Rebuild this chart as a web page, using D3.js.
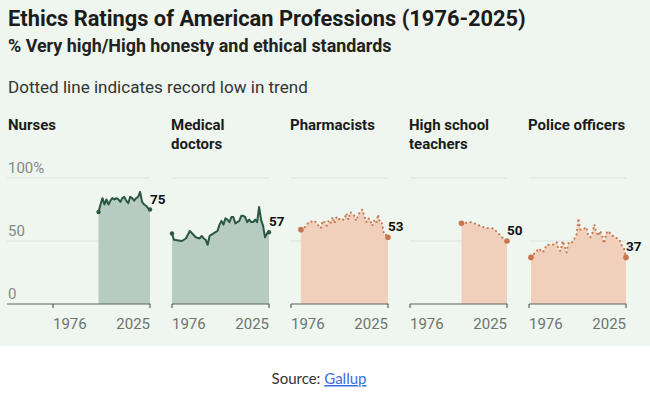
<!DOCTYPE html>
<html>
<head>
<meta charset="utf-8">
<script src="https://cdn.jsdelivr.net/npm/d3@7"></script>
<style>
  body { margin: 0; background: #fff; }
  svg { display: block; }
</style>
</head>
<body>
<svg id="chart" width="650" height="395"></svg>
<script>
// panel titles (split in lines) and which ones hit a record low
const titleLines = [["Nurses"], ["Medical", "doctors"], ["Pharmacists"], ["High school", "teachers"], ["Police officers"]];
const recordLow = [false, false, true, true, true];

const nursesYears = [1999, 2000, 2001, 2002, 2003, 2004, 2005, 2006, 2007, 2008, 2009, 2010, 2011, 2012, 2013, 2014, 2015, 2016, 2017, 2018, 2019, 2020, 2021, 2022, 2023, 2024, 2025];
const nursesValues = [73, 79, 84, 79, 83, 79, 82, 84, 83, 84, 83, 81, 84, 85, 82, 80, 85, 84, 82, 84, 85, 89, 81, 79, 78, 76, 75];

const doctorsYears = [1976, 1977, 1981, 1983, 1985, 1988, 1990, 1991, 1992, 1993, 1994, 1995, 1996, 1997, 1998, 1999, 2000, 2001, 2002, 2003, 2004, 2005, 2006, 2007, 2008, 2009, 2010, 2011, 2012, 2013, 2014, 2015, 2016, 2017, 2018, 2019, 2020, 2021, 2022, 2023, 2024, 2025];
const doctorsValues = [56, 51, 50, 52, 58, 53, 52, 54, 52, 51, 47, 54, 55, 56, 57, 58, 63, 66, 63, 68, 67, 65, 69, 69, 64, 65, 66, 70, 70, 69, 65, 67, 65, 65, 67, 65, 77, 67, 62, 53, 56, 57];

const pharmacistsYears = [1981, 1983, 1985, 1988, 1990, 1991, 1992, 1993, 1994, 1995, 1996, 1997, 1998, 1999, 2000, 2001, 2002, 2003, 2004, 2005, 2006, 2007, 2008, 2009, 2010, 2011, 2012, 2013, 2014, 2015, 2016, 2017, 2018, 2019, 2020, 2021, 2022, 2023, 2024, 2025];
const pharmacistsValues = [59, 61, 65, 66, 62, 60, 66, 65, 62, 66, 64, 69, 64, 69, 67, 68, 67, 67, 72, 67, 73, 71, 70, 66, 71, 73, 75, 70, 65, 68, 67, 62, 66, 64, 71, 64, 64, 55, 55, 53];

const teachersYears = [2002, 2007, 2010, 2013, 2016, 2018, 2020, 2022, 2023, 2025];
const teachersValues = [64, 65, 63, 61, 60, 60, 57, 54, 52, 50];

const policeYears = [1977, 1981, 1983, 1985, 1988, 1990, 1991, 1992, 1993, 1994, 1995, 1996, 1997, 1998, 1999, 2000, 2001, 2002, 2003, 2004, 2005, 2006, 2007, 2008, 2009, 2010, 2011, 2012, 2013, 2014, 2015, 2016, 2017, 2018, 2019, 2020, 2021, 2022, 2023, 2024, 2025];
const policeValues = [37, 44, 41, 47, 47, 49, 43, 42, 50, 46, 41, 49, 49, 49, 52, 55, 68, 59, 59, 60, 61, 54, 53, 56, 63, 57, 54, 58, 54, 48, 56, 58, 56, 54, 54, 53, 51, 50, 46, 44, 37];

const allYears = [nursesYears, doctorsYears, pharmacistsYears, teachersYears, policeYears];
const allValues = [nursesValues, doctorsValues, pharmacistsValues, teachersValues, policeValues];

const yGrid = [50, 100];
const yTicks = [0, 50, 100];
const yTickLabels = ["0", "50", "100%"];
const xTicks = [1976, 2025];

const svg = d3.select("#chart");
const font = "Roboto, 'Noto Sans', sans-serif";

svg.append("rect").attr("width", 650).attr("height", 346).attr("fill", "#eef6ef");

// stretch/shrink a text's font size so it spans a given width
function fitWidth(text, w) {
  const len = text.node().getComputedTextLength();
  const fs = parseFloat(text.attr("font-size"));
  text.attr("font-size", (fs * w) / len);
}

const title = svg.append("text")
  .attr("x", 8).attr("y", 26)
  .attr("font-family", font).attr("font-weight", 700).attr("font-size", 20)
  .attr("fill", "#1b1b1b")
  .text("Ethics Ratings of American Professions (1976-2025)");
fitWidth(title, 518);

const subtitle = svg.append("text")
  .attr("x", 8).attr("y", 52)
  .attr("font-family", font).attr("font-weight", 700).attr("font-size", 16)
  .attr("fill", "#222")
  .text("% Very high/High honesty and ethical standards");
fitWidth(subtitle, 384);

const note = svg.append("text")
  .attr("x", 8).attr("y", 93)
  .attr("font-family", font).attr("font-size", 16)
  .attr("fill", "#333")
  .text("Dotted line indicates record low in trend");
fitWidth(note, 300);

const y = d3.scaleLinear().domain([0, 100]).range([304, 178]);

const green = { fill: "#b6ccc2", line: "#2c5842" };
const peach = { fill: "#f0cfbb", line: "#c7764f" };

titleLines.forEach(function (lines, i) {
  const x0 = 53 + i * 119;
  const x = d3.scaleLinear().domain([1976, 2025]).range([x0, x0 + 97]);
  const left = i === 0 ? 7 : x0;
  const g = svg.append("g");
  const col = recordLow[i] ? peach : green;

  g.append("text")
    .attr("x", i === 0 ? 8 : x0 - 1)
    .attr("font-family", font).attr("font-weight", 700).attr("font-size", 15)
    .attr("fill", "#1b1b1b")
    .selectAll("tspan")
    .data(lines)
    .enter()
    .append("tspan")
    .attr("x", i === 0 ? 8 : x0 - 1)
    .attr("y", (d, k) => 130 + k * 19)
    .text((d) => d);

  g.selectAll(".grid")
    .data(yGrid)
    .enter()
    .append("line")
    .attr("x1", left).attr("x2", x0 + 97)
    .attr("y1", (d) => y(d)).attr("y2", (d) => y(d))
    .attr("stroke", "#dce2dc").attr("stroke-width", 1);

  if (i === 0) {
    g.selectAll(".ylab")
      .data(yTicks)
      .enter()
      .append("text")
      .attr("x", 8)
      .attr("y", (d) => y(d) - 5)
      .attr("font-family", font).attr("font-size", 15)
      .attr("fill", "#858985")
      .text((d, k) => yTickLabels[k]);
  }

  const data = allYears[i].map((yr, k) => ({ year: yr, value: allValues[i][k] }));

  g.append("path")
    .datum(data)
    .attr("fill", col.fill)
    .attr("d", d3.area().x((d) => x(d.year)).y0(y(0)).y1((d) => y(d.value)));

  const line = g.append("path")
    .datum(data)
    .attr("fill", "none")
    .attr("stroke", col.line)
    .attr("stroke-linejoin", "round")
    .attr("d", d3.line().x((d) => x(d.year)).y((d) => y(d.value)));
  if (recordLow[i]) {
    line.attr("stroke-width", 2.2).attr("stroke-linecap", "round").attr("stroke-dasharray", "0,4.6");
  } else {
    line.attr("stroke-width", 2);
  }

  const ends = [data[0], data[data.length - 1]];
  g.selectAll(".end")
    .data(ends)
    .enter()
    .append("circle")
    .attr("cx", (d) => x(d.year))
    .attr("cy", (d) => y(d.value))
    .attr("r", recordLow[i] ? 2.8 : 2.2)
    .attr("fill", col.line);

  const last = data[data.length - 1];
  g.append("text")
    .attr("x", x(last.year))
    .attr("y", y(last.value) - 6)
    .attr("font-family", font).attr("font-weight", 700).attr("font-size", 13.5)
    .attr("fill", "#111")
    .text(last.value);

  // bottom axis
  g.append("line")
    .attr("x1", left).attr("x2", x0 + 97.5)
    .attr("y1", y(0)).attr("y2", y(0))
    .attr("stroke", "#5f625f").attr("stroke-width", 1.2);
  g.selectAll(".tick")
    .data(xTicks)
    .enter()
    .append("line")
    .attr("x1", (d) => x(d)).attr("x2", (d) => x(d))
    .attr("y1", y(0)).attr("y2", y(0) + 4)
    .attr("stroke", "#5f625f").attr("stroke-width", 1.2);
  g.selectAll(".xlab")
    .data(xTicks)
    .enter()
    .append("text")
    .attr("x", (d) => x(d))
    .attr("y", 329)
    .attr("text-anchor", (d, k) => (k === 0 ? "start" : "end"))
    .attr("font-family", font).attr("font-size", 15)
    .attr("fill", "#6f736f")
    .text((d) => d);
});

const source = svg.append("text")
  .attr("x", 319).attr("y", 384)
  .attr("text-anchor", "middle")
  .attr("font-family", "Lato, sans-serif").attr("font-size", 15)
  .attr("fill", "#333");
source.append("tspan").text("Source: ");
source.append("tspan")
  .attr("fill", "#3a6ee0")
  .attr("text-decoration", "underline")
  .text("Gallup");
</script>
</body>
</html>
